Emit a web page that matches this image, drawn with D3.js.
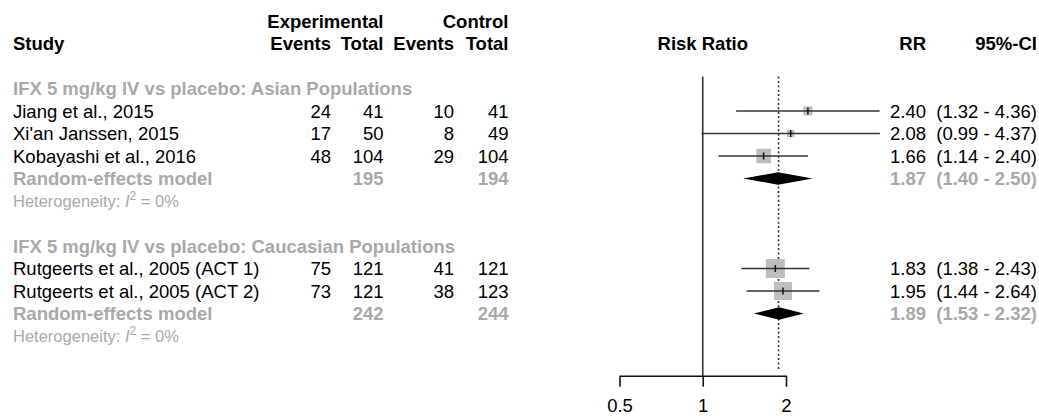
<!DOCTYPE html>
<html>
<head>
<meta charset="utf-8">
<script src="https://cdn.jsdelivr.net/npm/d3@7"></script>
<style>
  html, body { margin: 0; padding: 0; background: #fff; }
  svg { display: block; font-family: "Liberation Sans", Arial, sans-serif; }
  .bold { font-weight: bold; }
  .grey { fill: #a9a9a9; }
</style>
</head>
<body>
<svg id="forest" width="1039" height="416"></svg>
<script>
// study level data
const studies = [
  "Jiang et al., 2015",
  "Xi'an Janssen, 2015",
  "Kobayashi et al., 2016",
  "Rutgeerts et al., 2005 (ACT 1)",
  "Rutgeerts et al., 2005 (ACT 2)"
];
const studyGroup = [0, 0, 0, 1, 1];
const expEvents = [24, 17, 48, 75, 73];
const expTotal = [41, 50, 104, 121, 121];
const ctrlEvents = [10, 8, 29, 41, 38];
const ctrlTotal = [41, 49, 104, 121, 123];
const rr = [2.40, 2.08, 1.66, 1.83, 1.95];
const rrLower = [1.32, 0.99, 1.14, 1.38, 1.44];
const rrUpper = [4.36, 4.37, 2.40, 2.43, 2.64];
const weights = [8.0, 5.2, 20.5, 35.0, 31.4];

// subgroup summaries
const groups = [
  "IFX 5 mg/kg IV vs placebo: Asian Populations",
  "IFX 5 mg/kg IV vs placebo: Caucasian Populations"
];
const pooledRR = [1.87, 1.89];
const pooledLower = [1.40, 1.53];
const pooledUpper = [2.50, 2.32];
const pooledExpTotal = [195, 242];
const pooledCtrlTotal = [194, 244];
const heterogeneity = ["0%", "0%"];
const overallRR = 1.88;
const axisTicks = [0.5, 1, 2];

const fontSize = 18.5;
const smallFont = 16.5;
const grey = "#a9a9a9";

// build the row list
let rows = [];
groups.forEach(function(g, gi) {
  rows.push({type: "group", g: gi});
  studies.forEach(function(s, i) {
    if (studyGroup[i] === gi) rows.push({type: "study", i: i});
  });
  rows.push({type: "pooled", g: gi});
  rows.push({type: "het", g: gi});
  if (gi < groups.length - 1) rows.push({type: "blank"});
});
rows.forEach(function(r, k) { r.row = k; });

let yScale = d3.scaleLinear().domain([0, rows.length - 1]).range([88.5, 88.5 + 22.5 * (rows.length - 1)]);
let xScale = d3.scaleLog().domain([0.5, 2]).range([619.5, 786]);
let sizeScale = d3.scaleSqrt().domain([0, d3.max(weights)]).range([0, 19]);
let fmt = d3.format(".2f");

const cols = {study: 13, expEv: 331, expTot: 383.5, ctrlEv: 454, ctrlTot: 508.5, rr: 926, ci: 1037};
const headY = [21.5, 43.5];
const base = 6.5;

let svg = d3.select("#forest");

// header
let head = svg.append("g").attr("class", "bold").style("font-size", fontSize + "px");
head.append("text").attr("x", cols.study).attr("y", headY[1] + base).text("Study");
head.append("text").attr("x", cols.expTot).attr("y", headY[0] + base).attr("text-anchor", "end").text("Experimental");
head.append("text").attr("x", cols.ctrlTot).attr("y", headY[0] + base).attr("text-anchor", "end").text("Control");
[["Events", cols.expEv], ["Total", cols.expTot], ["Events", cols.ctrlEv], ["Total", cols.ctrlTot]].forEach(function(h) {
  head.append("text").attr("x", h[1]).attr("y", headY[1] + base).attr("text-anchor", "end").text(h[0]);
});
head.append("text").attr("x", xScale(1)).attr("y", headY[1] + base).attr("text-anchor", "middle").text("Risk Ratio");
head.append("text").attr("x", cols.rr).attr("y", headY[1] + base).attr("text-anchor", "end").text("RR");
head.append("text").attr("x", cols.ci).attr("y", headY[1] + base).attr("text-anchor", "end").text("95%-CI");

// reference lines
let plotTop = yScale(0) - 12;
let axisY = 375.7;
svg.append("line")
  .attr("x1", xScale(1)).attr("x2", xScale(1))
  .attr("y1", plotTop).attr("y2", axisY)
  .attr("stroke", "#333").attr("stroke-width", 1.6);
svg.append("line")
  .attr("x1", xScale(overallRR)).attr("x2", xScale(overallRR))
  .attr("y1", plotTop).attr("y2", axisY - 5)
  .attr("stroke", "#333").attr("stroke-width", 1.6)
  .attr("stroke-dasharray", "2,2.4");

let table = svg.append("g").style("font-size", fontSize + "px");

rows.forEach(function(r) {
  let y = yScale(r.row);
  if (r.type === "group") {
    table.append("text").attr("class", "bold grey").attr("x", cols.study).attr("y", y + base).text(groups[r.g]);
  } else if (r.type === "study") {
    let i = r.i;
    table.append("text").attr("x", cols.study).attr("y", y + base).text(studies[i]);
    [[expEvents[i], cols.expEv], [expTotal[i], cols.expTot], [ctrlEvents[i], cols.ctrlEv], [ctrlTotal[i], cols.ctrlTot]].forEach(function(c) {
      table.append("text").attr("x", c[1]).attr("y", y + base).attr("text-anchor", "end").text(c[0]);
    });
    table.append("text").attr("x", cols.rr).attr("y", y + base).attr("text-anchor", "end").text(fmt(rr[i]));
    table.append("text").attr("x", cols.ci).attr("y", y + base).attr("text-anchor", "end")
      .text("(" + fmt(rrLower[i]) + " - " + fmt(rrUpper[i]) + ")");

    let s = sizeScale(weights[i]);
    svg.append("rect")
      .attr("x", xScale(rr[i]) - s / 2).attr("y", y - s / 2)
      .attr("width", s).attr("height", s)
      .attr("fill", "#bebebe");
    svg.append("line")
      .attr("x1", xScale(rrLower[i])).attr("x2", xScale(rrUpper[i]))
      .attr("y1", y).attr("y2", y)
      .attr("stroke", "#333").attr("stroke-width", 1.6);
    svg.append("line")
      .attr("x1", xScale(rr[i])).attr("x2", xScale(rr[i]))
      .attr("y1", y - 3.5).attr("y2", y + 3.5)
      .attr("stroke", "#111").attr("stroke-width", 1.5);
  } else if (r.type === "pooled") {
    let g = r.g;
    table.append("text").attr("class", "bold grey").attr("x", cols.study).attr("y", y + base).text("Random-effects model");
    table.append("text").attr("class", "bold grey").attr("x", cols.expTot).attr("y", y + base).attr("text-anchor", "end").text(pooledExpTotal[g]);
    table.append("text").attr("class", "bold grey").attr("x", cols.ctrlTot).attr("y", y + base).attr("text-anchor", "end").text(pooledCtrlTotal[g]);
    table.append("text").attr("class", "bold grey").attr("x", cols.rr).attr("y", y + base).attr("text-anchor", "end").text(fmt(pooledRR[g]));
    table.append("text").attr("class", "bold grey").attr("x", cols.ci).attr("y", y + base).attr("text-anchor", "end")
      .text("(" + fmt(pooledLower[g]) + " - " + fmt(pooledUpper[g]) + ")");

    let h = 6.2;
    let pts = [
      [xScale(pooledLower[g]), y],
      [xScale(pooledRR[g]), y - h],
      [xScale(pooledUpper[g]), y],
      [xScale(pooledRR[g]), y + h]
    ];
    svg.append("path").attr("d", "M" + pts.join("L") + "Z").attr("fill", "#000");
  } else if (r.type === "het") {
    let t = table.append("text").attr("x", cols.study).attr("y", y + base - 1)
      .style("font-size", smallFont + "px").attr("fill", grey);
    t.append("tspan").text("Heterogeneity: ");
    t.append("tspan").style("font-style", "italic").text("I");
    t.append("tspan").attr("dy", -7).style("font-size", "12px").text("2");
    t.append("tspan").attr("dy", 7).text(" = " + heterogeneity[r.g]);
  }
});

// x axis
let xAxis = d3.axisBottom(xScale)
  .tickValues(axisTicks)
  .tickFormat(d3.format(""))
  .tickSize(11)
  .tickSizeOuter(0)
  .tickPadding(12);
let ax = svg.append("g")
  .attr("transform", "translate(0," + axisY + ")")
  .call(xAxis);
ax.select(".domain").attr("stroke", "#111").attr("stroke-width", 1.6);
ax.selectAll(".tick line").attr("stroke", "#111").attr("stroke-width", 1.6);
ax.selectAll(".tick text")
  .attr("fill", "#000")
  .style("font-size", fontSize + "px")
  .style("font-family", "'Liberation Sans', Arial, sans-serif");
</script>
</body>
</html>
